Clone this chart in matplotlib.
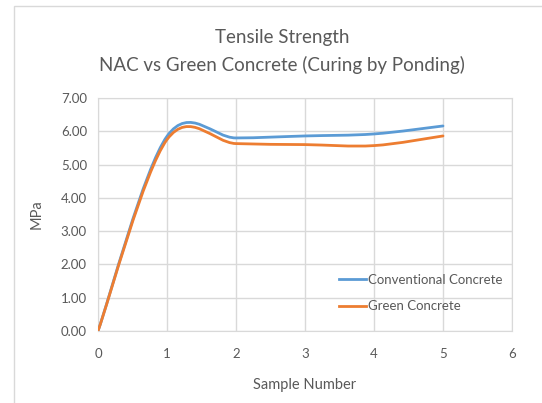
import matplotlib.pyplot as plt
import numpy as np
from matplotlib.path import Path
from matplotlib.patches import PathPatch, Rectangle
from matplotlib.lines import Line2D

plt.rcParams['font.family'] = ['Lato', 'DejaVu Sans']

sample_no = [0, 1, 2, 3, 4, 5]
conventional = [0.00, 5.85, 5.80, 5.86, 5.92, 6.16]
green = [0.00, 5.75, 5.63, 5.60, 5.57, 5.86]
series_names = ['Conventional Concrete', 'Green Concrete']
colors = ['#5B9BD5', '#ED7D31']
y_ticks = [0, 1, 2, 3, 4, 5, 6, 7]
x_ticks = [0, 1, 2, 3, 4, 5, 6]


# Excel-like smoothed line: cubic Bezier segments through the data points
def smooth_path(xs, ys):
    pts = np.column_stack([xs, ys]).astype(float)
    n = len(pts)
    verts = [pts[0]]
    codes = [Path.MOVETO]
    for i in range(n - 1):
        p_prev = pts[i - 1] if i > 0 else pts[i]
        p_next = pts[i + 2] if i + 2 < n else pts[i + 1]
        c1 = pts[i] + (pts[i + 1] - p_prev) / 6.0
        c2 = pts[i + 1] - (p_next - pts[i]) / 6.0
        verts += [c1, c2, pts[i + 1]]
        codes += [Path.CURVE4] * 3
    return Path(verts, codes)


fig = plt.figure(figsize=(5.42, 4.03), dpi=100)
ax = fig.add_axes([98 / 542, 1 - 331 / 403, 414 / 542, 233 / 403])

# chart border
fig.patches.append(Rectangle((14 / 542, -0.1), 1.1, 1 - 6 / 403 + 0.1,
                             transform=fig.transFigure, fill=False,
                             edgecolor='#d9d9d9', linewidth=1.0))

handles = []
for ys, name, c in zip([conventional, green], series_names, colors):
    patch = PathPatch(smooth_path(sample_no, ys), facecolor='none',
                      edgecolor=c, linewidth=2.0, capstyle='round', zorder=3)
    ax.add_patch(patch)
    handles.append(Line2D([], [], color=c, linewidth=2.0, label=name))

ax.set_xlim(0, 6)
ax.set_ylim(0, 7)
ax.set_xticks(x_ticks)
ax.set_yticks(y_ticks)
ax.set_yticklabels([f'{v:.2f}' for v in y_ticks])
ax.grid(True, color='#d9d9d9', linewidth=1.0)
ax.set_axisbelow(True)
for s in ax.spines.values():
    s.set_color('#d9d9d9')
ax.tick_params(length=0, colors='#595959', labelsize=9.5)
ax.tick_params(axis='x', pad=12)
ax.tick_params(axis='y', pad=8)

ax.set_xlabel('Sample Number', fontsize=10.5, color='#595959', labelpad=13)
ax.set_ylabel('MPa', fontsize=10.5, color='#595959', labelpad=12)

fig.text(0.52, 1 - 37 / 403, 'Tensile Strength', ha='center', va='center',
         fontsize=13.5, color='#595959')
fig.text(0.52, 1 - 65 / 403, 'NAC vs Green Concrete (Curing by Ponding)',
         ha='center', va='center', fontsize=13.5, color='#595959')

leg = ax.legend(handles=handles, loc='lower right', bbox_to_anchor=(1.0, 0.04),
                frameon=False, fontsize=9.5, handlelength=2.0, handletextpad=0.2,
                labelspacing=1.1, borderaxespad=0.3)
for t in leg.get_texts():
    t.set_color('#595959')

fig.savefig('out.png', dpi=100)
